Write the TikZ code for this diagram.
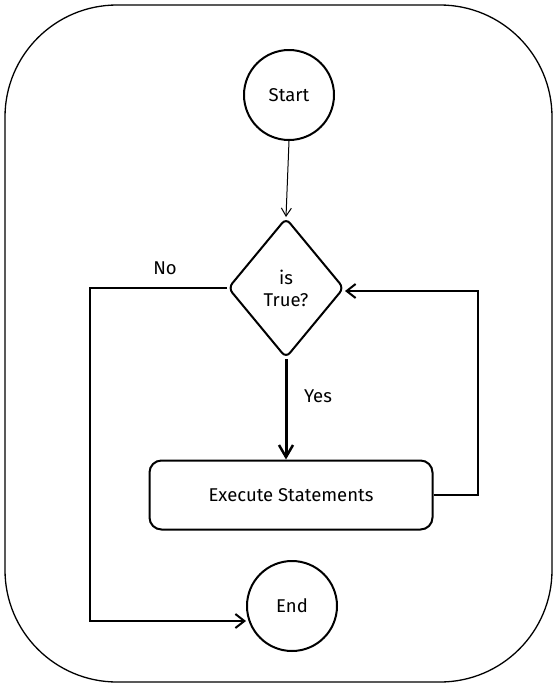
\documentclass[tikz,border=0pt]{standalone}
\usepackage{fontspec}
\setmainfont{Fira Sans}
\usetikzlibrary{shapes.geometric,arrows.meta}
\begin{document}
\begin{tikzpicture}[x=1pt,y=-1pt,
  every node/.style={font=\fontsize{18.5}{22}\selectfont},
  circ/.style={draw,circle,line width=2pt,minimum size=90pt,inner sep=0pt},
  dia/.style={draw,diamond,line width=2pt,minimum width=116pt,minimum height=140pt,inner sep=0pt,rounded corners=6pt,align=center},
  box/.style={draw,rounded corners=12pt,line width=2pt,minimum width=283pt,minimum height=69pt},
  conn/.style={line width=2pt,-{Straight Barb[length=9pt,width=14pt,line width=2pt]}},
  lbl/.style={inner sep=0pt}]
\useasboundingbox (0,0) rectangle (557,686);
\draw[line width=1.3pt,rounded corners=112pt] (5,5) rectangle (552,682);
\node[circ] (start) at (289,95) {Start};
\node[dia] (cond) at (286,288) {is\\True?};
\node[box] (exec) at (291,495) {Execute Statements};
\node[circ] (end) at (292,606) {End};
\coordinate (loopA) at (478,495);
\coordinate (loopB) at (478,291);
\coordinate (noA) at (90,288);
\coordinate (noB) at (90,621);
\draw[line width=1pt,-{Straight Barb[length=8pt,width=10pt,line width=1pt]}] (start.south) -- (cond.north);
\draw[line width=3pt,-{Straight Barb[length=12pt,width=14pt,line width=2.5pt]}] (cond.south) -- (cond.south |- exec.north);
\draw[conn] (exec.east) -- (loopA) -- (loopB) -- (cond.east |- loopB);
\draw[conn] (cond.west) -- (noA) -- (noB) -- (noB -| end.west);
\node[lbl] (yes) at (318,396) {Yes};
\node[lbl] (no) at (165,268) {No};
\end{tikzpicture}
\end{document}
